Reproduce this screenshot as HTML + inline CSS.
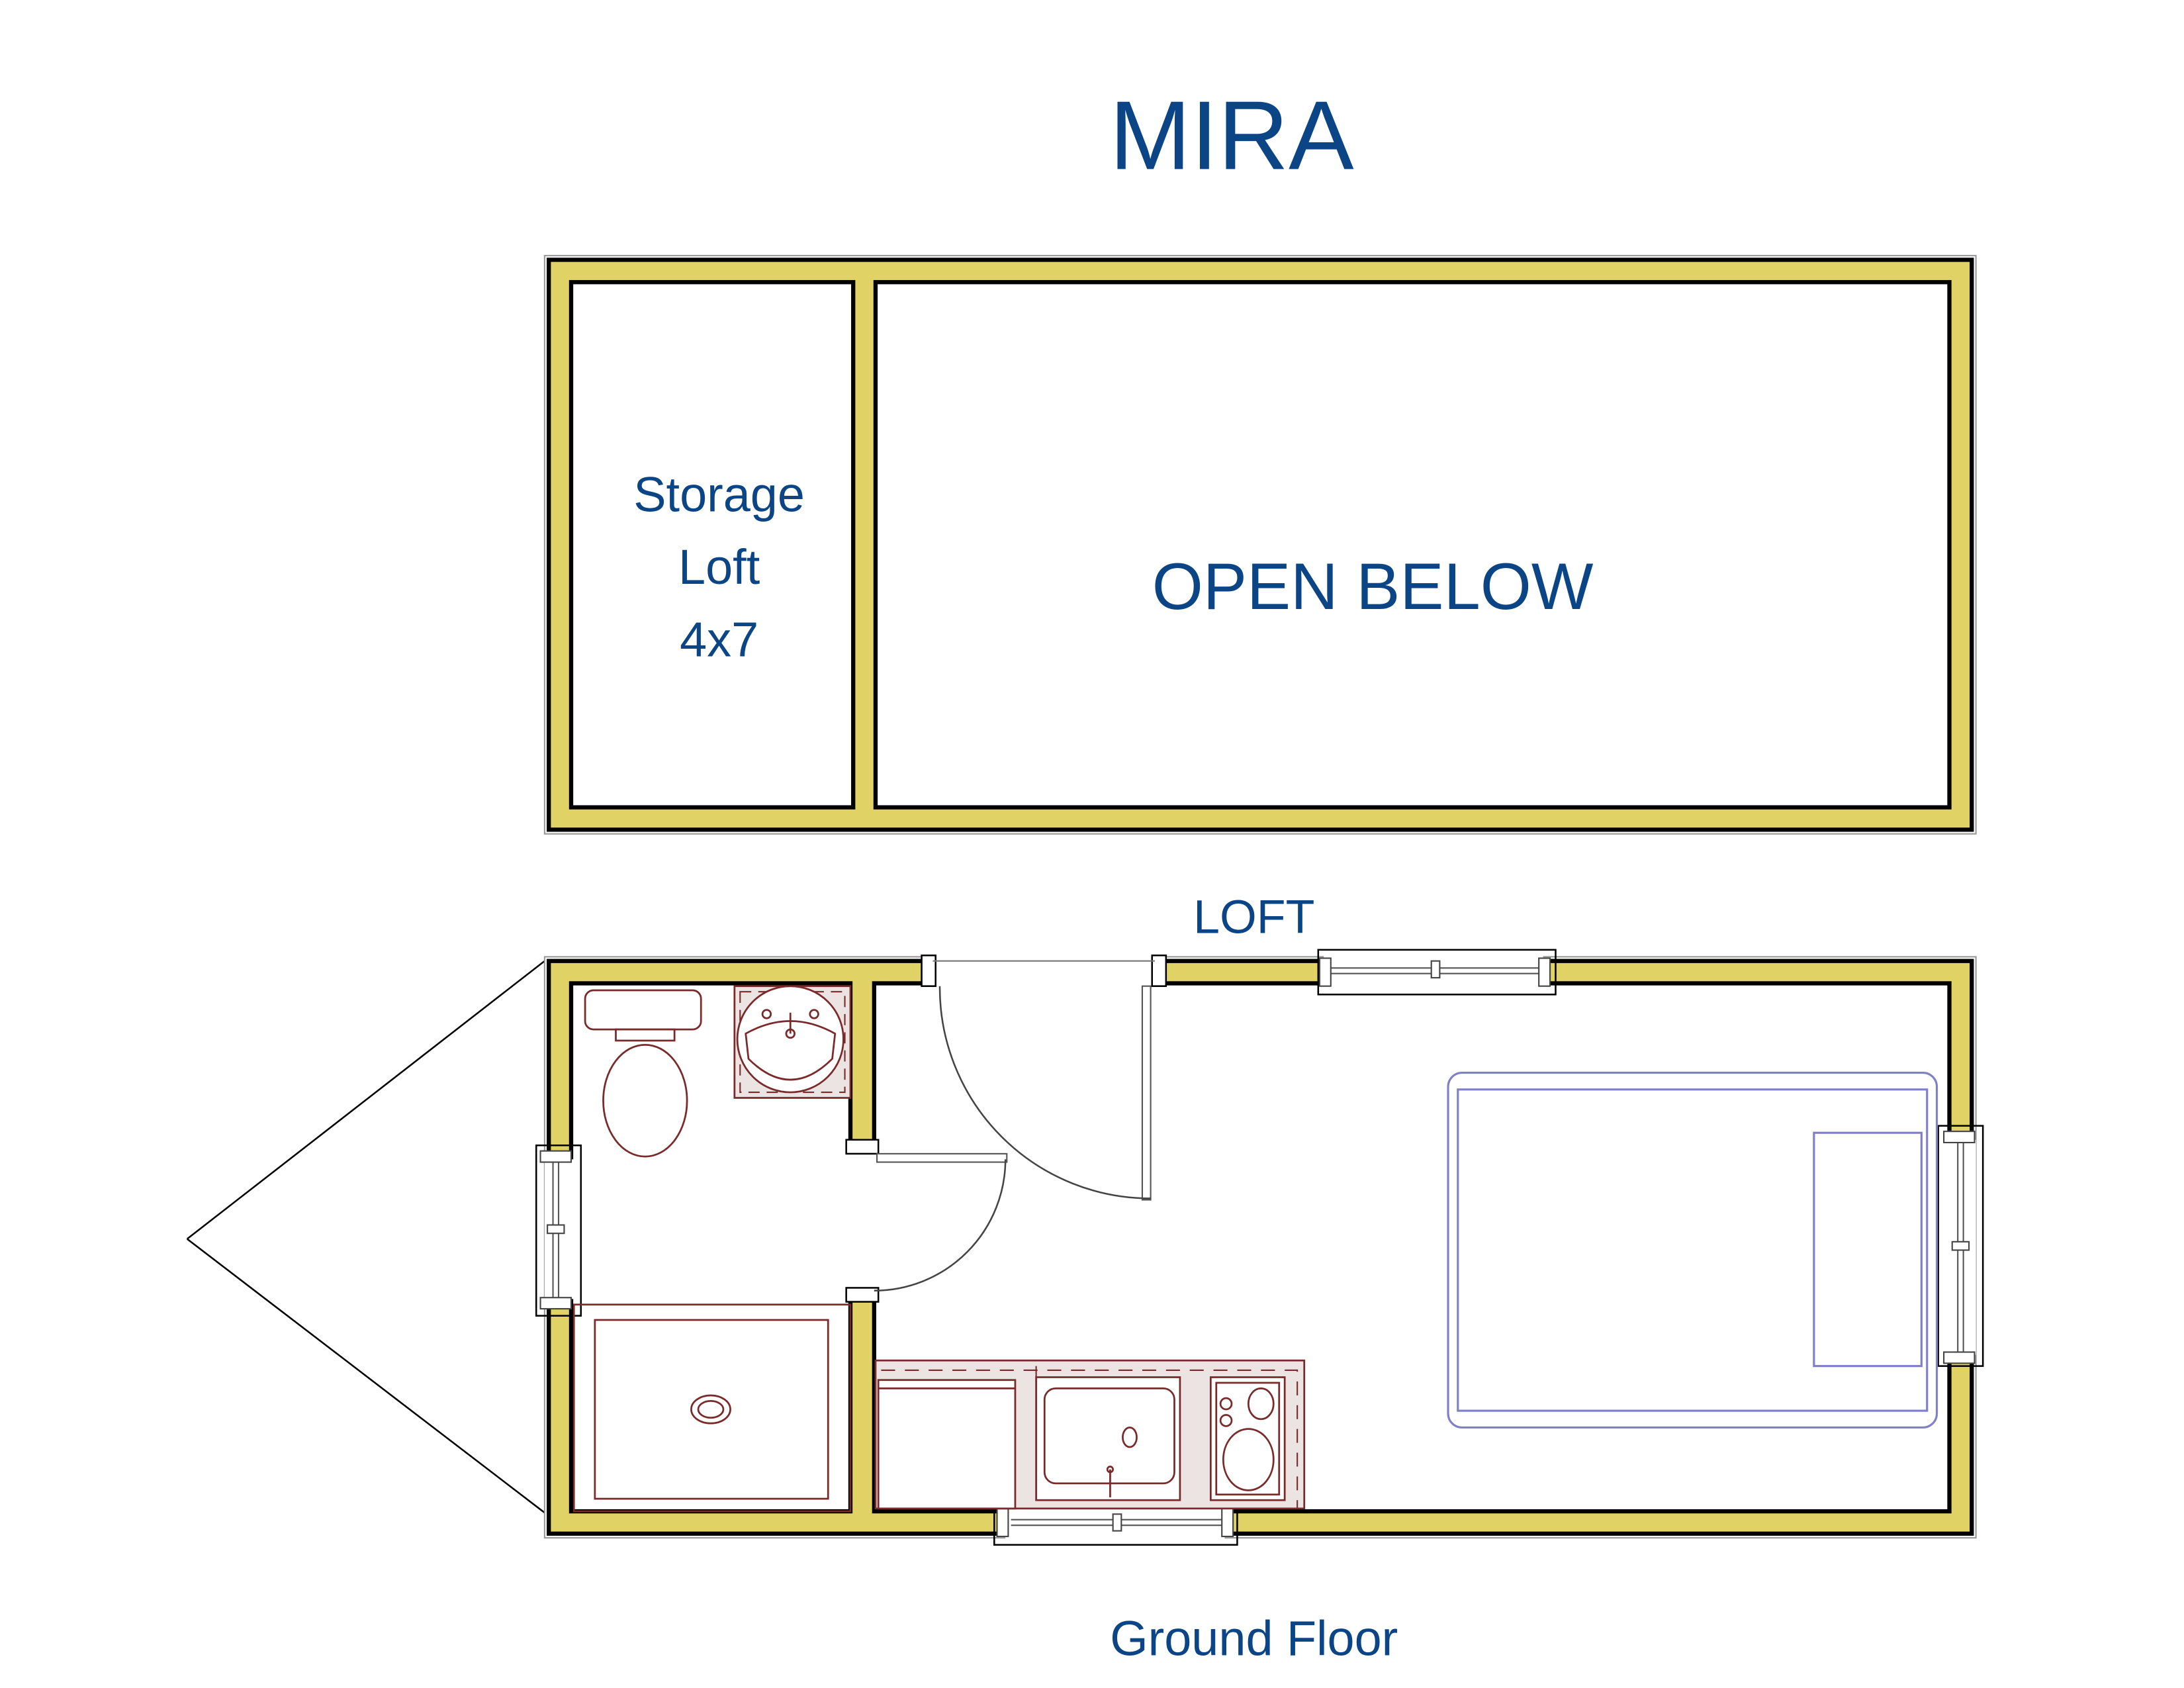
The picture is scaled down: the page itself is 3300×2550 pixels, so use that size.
<!DOCTYPE html>
<html><head><meta charset="utf-8"><style>
html,body{margin:0;padding:0;background:#fff}
svg{display:block}
text{font-family:"Liberation Sans","DejaVu Sans",sans-serif;fill:#0b4585}
</style></head><body>
<svg width="3300" height="2550" viewBox="0 0 1564 1208.5" preserveAspectRatio="none" xmlns="http://www.w3.org/2000/svg">
<rect width="1564" height="1209" fill="#fff"/>
<g transform="translate(-2,-2)">
<text x="884" y="123" font-size="70" text-anchor="middle">MIRA</text>

<!-- LOFT -->
<rect x="392" y="185" width="1025" height="414" fill="none" stroke="#999" stroke-width="1"/>
<rect x="395" y="188" width="1019" height="408" fill="#e0d264" stroke="#000" stroke-width="3"/>
<rect x="411" y="204" width="202" height="376" fill="#fff" stroke="#000" stroke-width="3"/>
<rect x="629" y="204" width="769" height="376" fill="#fff" stroke="#000" stroke-width="3"/>
<text x="517" y="368" font-size="35" text-anchor="middle">Storage</text>
<text x="517" y="420" font-size="35" text-anchor="middle">Loft</text>
<text x="517" y="472" font-size="35" text-anchor="middle">4x7</text>
<text x="985" y="438" font-size="47" text-anchor="middle">OPEN BELOW</text>
<text x="900" y="670" font-size="34" text-anchor="middle">LOFT</text>

<!-- GROUND -->
<line x1="392" y1="690" x2="136" y2="889" stroke="#000" stroke-width="1.2"/>
<line x1="136" y1="889" x2="392" y2="1085" stroke="#000" stroke-width="1.2"/>
<rect x="392" y="687" width="1025" height="416" fill="none" stroke="#999" stroke-width="1"/>
<rect x="395" y="690" width="1019" height="410" fill="#e0d264" stroke="#000" stroke-width="3"/>
<rect x="411" y="706" width="200" height="378" fill="#fff" stroke="#000" stroke-width="3"/>
<rect x="628" y="706" width="770" height="378" fill="#fff" stroke="#000" stroke-width="3"/>
<!-- openings -->
<rect x="670" y="686" width="159" height="22" fill="#fff"/>
<rect x="609" y="828" width="21" height="98" fill="#fff"/>
<rect x="950" y="686" width="157" height="22" fill="#fff"/>
<rect x="722" y="1082" width="157" height="22" fill="#fff"/>
<rect x="392" y="832" width="21" height="100" fill="#fff"/>
<rect x="1396" y="818" width="21" height="154" fill="#fff"/>
<!-- jambs -->
<g fill="#fff" stroke="#000" stroke-width="1.2">
<rect x="662" y="686" width="10" height="22"/><rect x="827" y="686" width="10" height="22"/>
<rect x="608" y="818" width="23" height="10"/><rect x="608" y="924" width="23" height="10"/>
</g>
<!-- top door -->
<line x1="670" y1="690" x2="829" y2="690" stroke="#777" stroke-width="1"/>
<rect x="820" y="708" width="6" height="153" fill="#fff" stroke="#555" stroke-width="1"/>
<path d="M675,708 A151,151 0 0 0 826,860" fill="none" stroke="#444" stroke-width="1.2"/>
<!-- bath door -->
<rect x="630" y="828" width="93" height="6" fill="#fff" stroke="#555" stroke-width="1"/>
<path d="M722,832 A94,94 0 0 1 628,926" fill="none" stroke="#444" stroke-width="1.2"/>
<!-- windows -->
<g fill="none" stroke="#000" stroke-width="1.2">
<rect x="946" y="682" width="170" height="32"/>
<rect x="714" y="1076" width="174" height="32"/>
<rect x="386" y="822" width="32" height="122"/>
<rect x="1390" y="808" width="32" height="172"/>
</g>
<g stroke="#555" stroke-width="1">
<line x1="954" y1="695" x2="1106" y2="695"/><line x1="954" y1="699" x2="1106" y2="699"/>
<line x1="726" y1="1090" x2="878" y2="1090"/><line x1="726" y1="1094" x2="878" y2="1094"/>
<line x1="398" y1="834" x2="398" y2="932"/><line x1="402" y1="834" x2="402" y2="932"/>
<line x1="1404" y1="820" x2="1404" y2="970"/><line x1="1408" y1="820" x2="1408" y2="970"/>
</g>
<g fill="#fff" stroke="#444" stroke-width="1">
<rect x="1027" y="690" width="6" height="12"/>
<rect x="799" y="1086" width="6" height="12"/>
<rect x="394" y="879" width="12" height="6"/>
<rect x="1400" y="891" width="12" height="6"/>
<rect x="947" y="688" width="8" height="20"/><rect x="1104" y="688" width="8" height="20"/>
<rect x="716" y="1082" width="8" height="20"/><rect x="877" y="1082" width="8" height="20"/>
<rect x="389" y="826" width="22" height="8"/><rect x="389" y="931" width="22" height="8"/>
<rect x="1394" y="812" width="22" height="8"/><rect x="1394" y="970" width="22" height="8"/>
</g>

<!-- fixtures -->
<g stroke="#7a2a2a" stroke-width="1.3" fill="none">
<rect x="421" y="711" width="83" height="28" rx="6" fill="#fff"/>
<rect x="443" y="739" width="42" height="8"/>
<ellipse cx="464" cy="790" rx="30" ry="40" fill="#fff"/>
<rect x="528" y="708" width="83" height="80" fill="#ece3e3"/>
<rect x="532" y="712" width="75" height="72" stroke-dasharray="8,5" stroke-width="1"/>
<circle cx="568" cy="746" r="38" fill="#fff"/>
<path d="M536,742 Q568,724 600,742 L598,760 Q568,790 538,760Z"/>
<circle cx="568" cy="742" r="3"/><circle cx="551" cy="728" r="3"/><circle cx="585" cy="728" r="3"/>
<line x1="568" y1="727" x2="568" y2="742"/>
<rect x="413" y="936" width="198" height="148"/>
<rect x="428" y="947" width="167" height="128"/>
<ellipse cx="511" cy="1011" rx="14" ry="10"/><ellipse cx="511" cy="1011" rx="9" ry="6"/>
<rect x="629" y="976" width="307" height="106" fill="#ece3e3"/>
<path d="M633,983 H931 V1082" stroke-dasharray="10,7" stroke-width="1"/>
<rect x="631" y="990" width="98" height="92" fill="#fff"/>
<line x1="631" y1="996" x2="729" y2="996"/>
<line x1="744" y1="980" x2="744" y2="1082" stroke-dasharray="10,7" stroke-width="1"/>
<rect x="744" y="988" width="103" height="88" fill="#fff"/>
<rect x="750" y="996" width="93" height="68" rx="8" fill="#fff"/>
<ellipse cx="811" cy="1031" rx="5" ry="7"/>
<line x1="797" y1="1054" x2="797" y2="1074"/><circle cx="797" cy="1054" r="2"/>
<rect x="869" y="988" width="53" height="88" fill="#fff"/>
<rect x="873" y="992" width="45" height="80"/>
<ellipse cx="905" cy="1007" rx="9" ry="11"/>
<ellipse cx="896" cy="1047" rx="18" ry="22"/>
<circle cx="880" cy="1007" r="4"/><circle cx="880" cy="1019" r="4"/>
</g>
<g stroke="#8080c8" stroke-width="1.5" fill="none">
<rect x="1039" y="770" width="350" height="254" rx="10"/>
<rect x="1046" y="782" width="336" height="230"/>
<rect x="1301" y="813" width="77" height="167"/>
</g>
<text x="900" y="1187" font-size="35" text-anchor="middle">Ground Floor</text>
</g>
</svg>
</body></html>
